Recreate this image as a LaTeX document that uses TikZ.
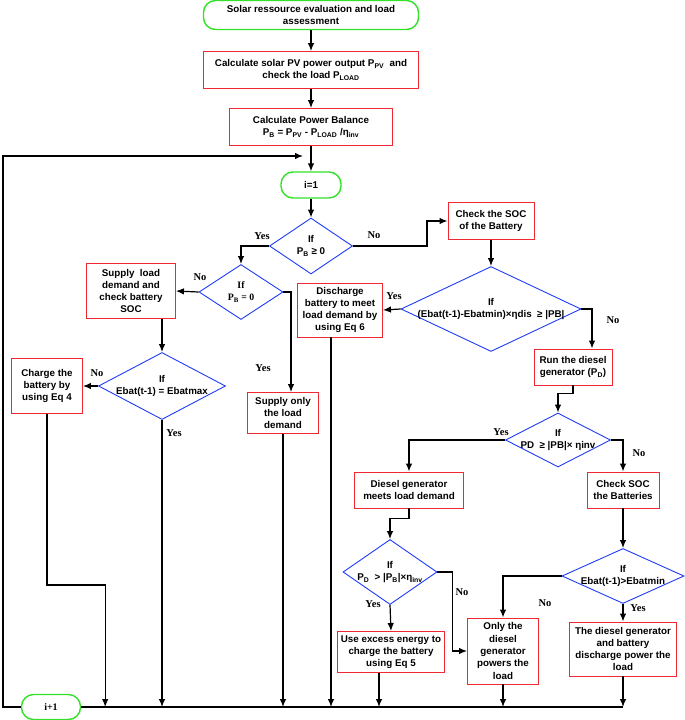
\documentclass[tikz,border=0pt]{standalone}
\usepackage{fontspec}
\setmainfont{Liberation Sans}
\newfontfamily\serifb{Liberation Serif}
\usetikzlibrary{shapes.geometric,arrows.meta}
\newcommand\sub[1]{\textsubscript{#1}}
\newcommand\dtxt[1]{\makebox[0pt]{\begin{tabular}{@{}c@{}}#1\end{tabular}}}
\definecolor{boxred}{RGB}{240,40,50}
\definecolor{diablue}{RGB}{30,60,245}
\definecolor{termgreen}{RGB}{50,225,40}
\begin{document}
\begin{tikzpicture}[x=1pt,y=-1pt,>={Latex[length=8pt,width=6.5pt]},
  every node/.style={font=\fontsize{9.8}{12.3}\selectfont\bfseries, inner sep=0pt, align=center},
  proc/.style={draw=boxred, line width=0.9pt, rectangle},
  dec/.style={draw=diablue, line width=0.9pt, diamond},
  term/.style={draw=termgreen, line width=1.4pt, rectangle, rounded corners=12pt},
  lab/.style={font=\fontsize{10.5}{12}\selectfont\serifb\bfseries},
  flow/.style={line width=1.2pt}]
  \useasboundingbox (0,0) rectangle (685,720);

  % main column
  \node[term, minimum width=215pt, minimum height=29pt] at (311, 15) (st) {Solar ressource evaluation and load\\assessment};
  \node[proc, minimum width=215pt, minimum height=37pt] at (311, 70) (pv) {Calculate solar PV power output P\sub{PV}~ and\\check the load P\sub{LOAD}};
  \node[proc, minimum width=163pt, minimum height=37pt] at (311, 127) (pb) {Calculate Power Balance\\P\sub{B} = P\sub{PV} - P\sub{LOAD} /η\sub{inv}};
  \node[term, minimum width=60pt, minimum height=26pt] at (311, 185) (i1) {i=1};
  \node[dec, minimum width=83pt, minimum height=56pt] at (311, 246) (d1) {\dtxt{If\\P\sub{B} ≥ 0}};

  % surplus side
  \node[dec, minimum width=84pt, minimum height=55pt] at (241, 292) (d2) {\dtxt{\serifb If\\\serifb P\sub{B} = 0}};
  \node[proc, minimum width=89pt, minimum height=55pt] at (131, 291) (sup) {Supply~ load\\demand and\\check battery\\SOC};
  \node[dec, minimum width=127pt, minimum height=67pt] at (162, 386) (dE) {\dtxt{If\\Ebat(t-1) = Ebatmax}};
  \node[proc, minimum width=71pt, minimum height=55pt] at (47, 386) (chg) {Charge the\\battery by\\using Eq 4};
  \node[proc, minimum width=71pt, minimum height=41pt] at (283, 413) (sonly) {Supply only\\the load\\demand};

  % deficit side
  \node[proc, minimum width=86pt, minimum height=37pt] at (491, 221) (soc) {Check the SOC\\of the Battery};
  \node[dec, minimum width=180pt, minimum height=85pt] at (491, 309) (d3) {\dtxt{If\\(Ebat(t-1)-Ebatmin)×ηdis~ ≥ |PB|}};
  \node[proc, minimum width=85pt, minimum height=54pt] at (340, 310) (dis) {Discharge\\battery to meet\\load demand by\\using Eq 6};
  \node[proc, minimum width=78pt, minimum height=36pt] at (573, 367) (run) {Run the diesel\\generator (P\sub{D})};
  \node[dec, minimum width=105pt, minimum height=54pt] at (558, 440) (d4) {\dtxt{If\\PD~ ≥ |PB|× ηinv}};
  \node[proc, minimum width=109pt, minimum height=36pt] at (409, 490) (dg) {Diesel generator\\meets load demand};
  \node[proc, minimum width=72pt, minimum height=36pt] at (623, 490) (csoc) {Check SOC\\the Batteries};
  \node[dec, minimum width=94pt, minimum height=65pt] at (390, 572) (d5) {\dtxt{If\\P\sub{D}~ > |P\sub{B}|×η\sub{inv}}};
  \node[proc, minimum width=107pt, minimum height=41pt] at (391, 652) (ex) {Use excess energy to\\charge the battery\\using Eq 5};
  \node[proc, minimum width=71pt, minimum height=66pt] at (503, 651) (only) {Only the\\diesel\\generator\\powers the\\load};
  \node[dec, minimum width=122pt, minimum height=55pt] at (623, 576) (d6) {\dtxt{If\\Ebat(t-1)>Ebatmin}};
  \node[proc, minimum width=107pt, minimum height=54pt] at (623, 649) (tdg) {The diesel generator\\and battery\\discharge power the\\load};

  \node[term, minimum width=59pt, minimum height=25pt, font=\fontsize{10}{12}\selectfont\serifb\bfseries] at (51, 707) (ip1) {i+1};

  \coordinate (back) at (303, 156);
  \coordinate (loop) at (3, 156);

  % connectors
  \draw[flow,->] (st) -- (pv);
  \draw[flow,->] (pv) -- (pb);
  \draw[flow,->] (pb) -- (i1);
  \draw[flow,->] (i1) -- (d1);
  \draw[flow,->] (d1.west) -| (d2.north);
  \draw[flow,->] (d2.west) -- (sup.east);
  \draw[flow,->] (d2.east) -| ([xshift=8pt]sonly.north);
  \draw[flow,->] (sup.south -| dE.north) -- (dE.north);
  \draw[flow,->] (dE.west) -- (chg.east);
  \draw[flow,->] (d1.east) -- ++(74,0) |- (soc.west);
  \draw[flow,->] (soc) -- (d3);
  \draw[flow,->] (d3.west) -- (dis.east);
  \draw[flow,->] (d3.east) -| ([xshift=19pt]run.north);
  \draw[flow,->] (run.south) -- ++(0,8) -| (d4.north);
  \draw[flow,->] (d4.west) -| (dg.north);
  \draw[flow,->] (d4.east) -| (csoc.north);
  \draw[flow,->] (dg.south) -- ++(0,10) -| (d5.north);
  \draw[flow,->] (csoc) -- (d6);
  \draw[flow,->] (d5.south) -- (ex.north);
  \draw[flow,->] (d5.east) -- ++(15,0) |- (only.west);
  \draw[flow,->] (d6.west) -| (only.north);
  \draw[flow,->] (d6.south) -- (tdg.north);

  % back to the bottom line
  \draw[flow,->] (chg.south) -- ++(0,171) -| ([xshift=24pt]ip1.east);
  \draw[flow,->] (dE.south) -- (dE.south |- ip1.east);
  \draw[flow,->] (sonly.south) -- (sonly.south |- ip1.east);
  \draw[flow,->] ([xshift=-9pt]dis.south) -- ([xshift=-9pt]dis.south |- ip1.east);
  \draw[flow,->] ([xshift=-12pt]ex.south) -- ([xshift=-12pt]ex.south |- ip1.east);
  \draw[flow,->] (only.south) -- (only.south |- ip1.east);
  \draw[flow,->] (tdg.south) -- (tdg.south |- ip1.east);
  \draw[flow] (tdg.south |- ip1.east) -- (ip1.east);
  \draw[flow,->] (ip1.west) -| (loop) -- (back);

  % yes / no labels
  \node[lab] at (262, 236) (yes1) {Yes};
  \node[lab] at (374, 235) (no1) {No};
  \node[lab] at (200, 277) (no2) {No};
  \node[lab] at (263, 368) (yes2) {Yes};
  \node[lab] at (97, 373) (no3) {No};
  \node[lab] at (174, 433) (yes3) {Yes};
  \node[lab] at (394, 296) (yes4) {Yes};
  \node[lab] at (613, 320) (no4) {No};
  \node[lab] at (501, 432) (yes5) {Yes};
  \node[lab] at (639, 453) (no5) {No};
  \node[lab] at (373, 604) (yes6) {Yes};
  \node[lab] at (462, 592) (no6) {No};
  \node[lab] at (545, 603) (no7) {No};
  \node[lab] at (638, 608) (yes7) {Yes};
\end{tikzpicture}
\end{document}
